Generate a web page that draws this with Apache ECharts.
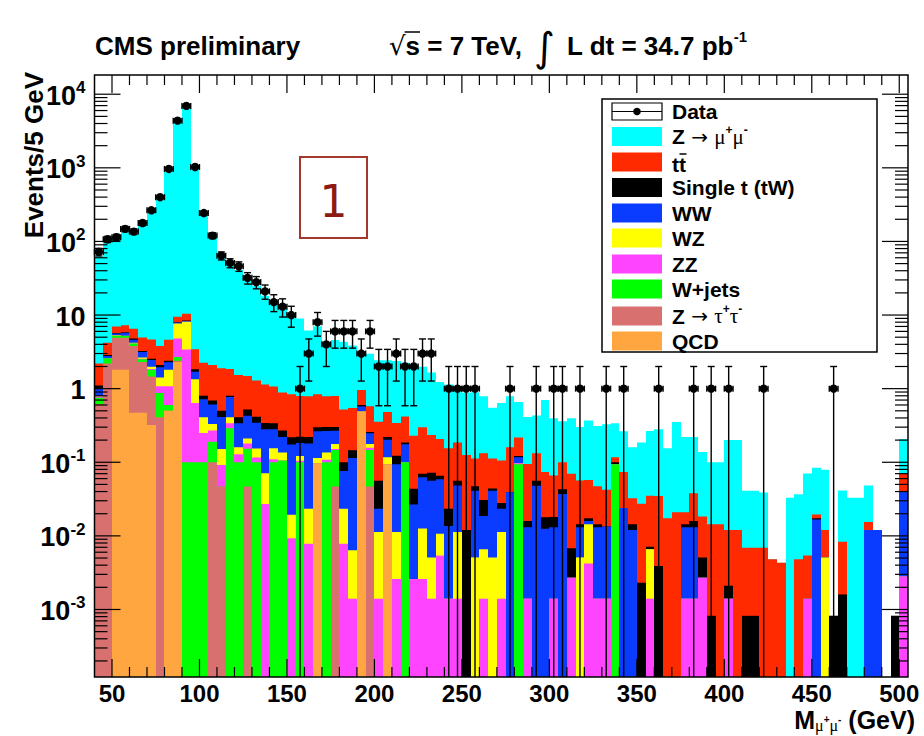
<!DOCTYPE html>
<html>
<head>
<meta charset="utf-8">
<title>CMS dimuon invariant mass</title>
<script src="https://cdn.jsdelivr.net/npm/echarts@6/dist/echarts.min.js"></script>
<style>
html, body { margin: 0; padding: 0; background: #ffffff; }
#chart { width: 924px; height: 736px; }
</style>
</head>
<body>
<div id="chart"></div>
<script>
// ---- Histogram binning (GeV) ----
const massFirstEdge = 40;
const binWidth = 5;
const nBins = 93;

// ---- Observed events per 5 GeV bin ----
const dataEvents = [
  72, 107, 114, 148, 136, 178, 265, 399, 966, 4375,
  6935, 1026, 243, 120, 64, 51, 46, 32, 28, 21,
  15, 13, 10, 1, 3, 8, 4, 6, 6, 6,
  3, 6, 2, 2, 3, 2, 2, 3, 3, 0,
  1, 1, 1, 1, 0, 0, 0, 1, 0, 0,
  1, 0, 1, 1, 0, 1, 0, 0, 1, 0,
  1, 0, 0, 0, 1, 0, 0, 0, 1, 0,
  1, 0, 1, 0, 0, 0, 1, 0, 0, 0,
  0, 0, 0, 0, 1, 0, 0, 0, 0, 0,
  0, 0, 0
];

// ---- Simulated yields per bin, one array per process ----
const qcd = [
  0, 0, 1.8, 1.8, 0.47, 0.47, 0.32, 0, 0.5, 2.3,
  0, 0, 0, 0, 0, 0, 0, 0, 0, 0,
  0, 0, 0, 0, 0, 0.097, 0, 0, 0, 0,
  0.49, 0, 0, 0.094, 0, 0, 0, 0, 0, 0,
  0, 0, 0, 0, 0, 0, 0, 0, 0, 0,
  0, 0, 0, 0, 0, 0, 0, 0, 0, 0,
  0, 0, 0, 0, 0, 0, 0, 0, 0, 0,
  0, 0, 0, 0, 0, 0, 0, 0, 0, 0,
  0, 0, 0, 0, 0, 0, 0, 0, 0, 0,
  0, 0, 0
];
const zTauTau = [
  0.62, 2.2, 3.1, 3.1, 3.33, 1.83, 1.14, 0.41, 0, 0.1,
  0, 0, 0, 0.1, 0.047, 0, 0, 0.047, 0, 0,
  0, 0, 0, 0, 0, 0, 0, 0.047, 0, 0,
  0, 0.047, 0, 0, 0, 0, 0, 0, 0, 0,
  0, 0, 0, 0, 0, 0, 0, 0, 0, 0,
  0, 0, 0, 0, 0, 0, 0, 0, 0, 0,
  0, 0, 0, 0, 0, 0, 0, 0, 0, 0,
  0, 0, 0, 0, 0, 0, 0, 0, 0, 0,
  0, 0, 0, 0, 0, 0, 0, 0, 0, 0,
  0, 0, 0
];
const wJets = [
  0.13, 0.38, 0.35, 0.3, 0.3, 0.2, 0.34, 0.46, 0.1, 0.3,
  0.1, 0.1, 0.1, 0.09, 0, 0.29, 0.1, 0.106, 0.1, 0,
  0.1, 0.106, 0, 0.1, 0, 0, 0.1, 0.1, 0, 0,
  0, 0.1, 0, 0, 0, 0.1, 0, 0, 0, 0,
  0, 0, 0, 0, 0, 0, 0, 0, 0.094, 0,
  0, 0, 0, 0, 0, 0, 0, 0, 0, 0.094,
  0, 0, 0, 0, 0, 0, 0, 0, 0, 0,
  0, 0, 0, 0, 0, 0, 0, 0, 0, 0,
  0, 0, 0, 0, 0, 0, 0, 0, 0, 0,
  0, 0, 0
];
const zz = [
  0.03, 0, 0, 0, 0, 0.05, 0.05, 0.21, 0.48, 2.1,
  3.3, 0.54, 0.15, 0.08, 0.045, 0.05, 0.028, 0.027, 0.016, 0.027,
  0.01, 0, 0.0093, 0.005, 0.0078, 0, 0.008, 0.005, 0.0078, 0.0014,
  0, 0.01, 0.0014, 0, 0.0026, 0, 0.0026, 0.0026, 0.0014, 0.0054,
  0.0014, 0.0014, 0, 0, 0.0014, 0, 0.0014, 0, 0.003, 0.0014,
  0, 0, 0.0014, 0, 0.0027, 0, 0.0042, 0.0014, 0.0014, 0,
  0, 0, 0, 0.0014, 0, 0, 0, 0.0014, 0.0014, 0.0027,
  0, 0, 0.0014, 0, 0, 0, 0, 0, 0, 0,
  0, 0.0014, 0, 0, 0, 0, 0, 0, 0, 0,
  0, 0, 0.0028
];
const wz = [
  0.02, 0, 0.05, 0.05, 0.1, 0.1, 0.13, 0.34, 0.72, 2.9,
  4.7, 0.7, 0.16, 0.06, 0.06, 0.07, 0.032, 0.03, 0.038, 0.044,
  0.045, 0.03, 0.01, 0.017, 0.0155, 0.017, 0.028, 0.025, 0.0155, 0.005,
  0, 0.02, 0.0099, 0.023, 0.0087, 0, 0, 0.01, 0.0037, 0.0053,
  0, 0.0099, 0, 0.0051, 0.0052, 0.0051, 0.0099, 0, 0, 0,
  0, 0, 0, 0, 0, 0.0051, 0.0102, 0, 0, 0,
  0, 0, 0, 0.0052, 0, 0, 0, 0, 0, 0,
  0, 0, 0, 0, 0, 0, 0, 0, 0, 0,
  0, 0, 0, 0.0051, 0, 0, 0, 0, 0, 0,
  0, 0, 0
];
const ww = [
  0.19, 0.19, 0.3, 0.5, 0.4, 0.5, 0.47, 0.53, 0.48, 0.2,
  0.2, 0.36, 0.31, 0.28, 0.26, 0.36, 0.18, 0.22, 0.19, 0.21,
  0.125, 0.084, 0.155, 0.06, 0.157, 0.15, 0.13, 0.09, 0.053, 0.108,
  0.08, 0.07, 0.012, 0.086, 0.083, 0.075, 0.024, 0.05, 0.051, 0.048,
  0.0122, 0.037, 0, 0.036, 0.012, 0.036, 0.012, 0.039, 0.02, 0.0117,
  0.048, 0.0125, 0.0117, 0.037, 0, 0.008, 0.0015, 0.0117, 0.012, 0,
  0.024, 0.012, 0, 0, 0, 0, 0, 0.0117, 0.0117, 0,
  0, 0, 0, 0, 0, 0, 0, 0, 0, 0,
  0, 0, 0.0167, 0, 0, 0, 0, 0, 0.012, 0.012,
  0, 0, 0.038
];
const singleTop = [
  0.11, 0.09, 0.1, 0.1, 0.2, 0.1, 0.1, 0.15, 0.12, 0.1,
  0.1, 0.13, 0.08, 0.08, 0.09, 0.03, 0.07, 0.09, 0.07, 0.06,
  0.06, 0.05, 0.045, 0.04, 0.04, 0.035, 0.035, 0.035, 0.024, 0.031,
  0.03, 0.01, 0.033, 0.017, 0.028, 0.01, 0.017, 0.007, 0.016, 0.007,
  0.0097, 0.008, 0.012, 0.006, 0.012, 0.003, 0.0047, 0, 0.005, 0.0028,
  0.008, 0.0054, 0.005, 0.006, 0.0041, 0.0013, 0.0014, 0.0013, 0, 0.006,
  0, 0.0024, 0.0023, 0.0005, 0.0039, 0, 0, 0.0013, 0.0028, 0.0024,
  0.00082, 0, 0.0007, 0, 0.00082, 0.00082, 0, 0, 0, 0,
  0, 0, 0.0006, 0, 0.00082, 0.0016, 0, 0, 0, 0,
  0, 0.00082, 0
];
const ttbar = [
  1.1, 1.34, 1.3, 1.4, 1.7, 1.7, 2.1, 1.7, 2.2, 1.5,
  2.0, 1.6, 1.45, 1.4, 1.39, 1.05, 1.12, 0.97, 0.88, 0.8,
  0.73, 0.62, 0.62, 0.57, 0.57, 0.54, 0.49, 0.49, 0.42, 0.4,
  0.36, 0.32, 0.3, 0.26, 0.22, 0.235, 0.186, 0.23, 0.163, 0.142,
  0.132, 0.129, 0.114, 0.065, 0.102, 0.068, 0.078, 0.121, 0.095, 0.079,
  0.077, 0.056, 0.048, 0.057, 0.063, 0.042, 0.04, 0.033, 0.029, 0.017,
  0.05, 0.018, 0.025, 0.028, 0.031, 0.0173, 0.021, 0.0066, 0.022, 0.0132,
  0.0136, 0.0144, 0.0099, 0.012, 0.0061, 0.0061, 0.0069, 0.0048, 0.0043, 0,
  0.0048, 0.004, 0.0022, 0.0069, 0, 0.0067, 0, 0, 0.0034, 0,
  0, 0, 0.029
];
const zMuMu = [
  60, 96, 106, 133, 127, 165, 250, 385, 950, 4200,
  6600, 1000, 240, 118, 62, 49, 39.5, 32.5, 23.7, 17.2,
  13.5, 11.2, 9.26, 8.2, 5.4, 6.2, 3.5, 3.8, 3.8, 3.3,
  2.24, 2.4, 2.08, 1.96, 2.03, 1.82, 1.77, 1.69, 1.42, 1.02,
  0.985, 0.765, 0.764, 0.78, 0.657, 0.438, 0.534, 0.63, 0.44, 0.316,
  0.3, 0.626, 0.329, 0.26, 0.325, 0.244, 0.313, 0.263, 0.287, 0.223,
  0.19, 0.128, 0.158, 0.23, 0.245, 0.138, 0.33, 0.2, 0.182, 0.12,
  0.086, 0.086, 0.188, 0.188, 0.034, 0.034, 0.032, 0, 0, 0.033,
  0.032, 0.065, 0.065, 0.067, 0, 0.033, 0.033, 0.033, 0.033, 0,
  0, 0, 0.138
];

// ---- Axis ticks ----
const xTickLabels = [50, 100, 150, 200, 250, 300, 350, 400, 450, 500];
const yDecades = [-3, -2, -1, 0, 1, 2, 3, 4];

// ---- Plot ranges ----
const X_MIN = 40, X_MAX = 505;
const Y_MIN = 1.21e-4, Y_MAX = 1.824e4;

const SANS = '"Liberation Sans", Arial, Helvetica, sans-serif';
const SERIF = '"Liberation Serif", "DejaVu Serif", serif';
const SYMB = '"DejaVu Sans", sans-serif';

// Stack order, bottom to top
const processes = [
  { name: 'QCD', values: qcd, color: '#ffa640' },
  { name: 'Z→ττ', values: zTauTau, color: '#d87070' },
  { name: 'W+jets', values: wJets, color: '#00ff00' },
  { name: 'ZZ', values: zz, color: '#ff44ff' },
  { name: 'WZ', values: wz, color: '#ffff00' },
  { name: 'WW', values: ww, color: '#0a3cff' },
  { name: 'Single t (tW)', values: singleTop, color: '#000000' },
  { name: 'ttbar', values: ttbar, color: '#ff2a00' },
  { name: 'Z→μμ', values: zMuMu, color: '#00ffff' }
];

// Cumulative stack levels: level k = sum of processes 0..k
const stackLevels = [];
let running = new Array(nBins).fill(0);
processes.forEach(function (p) {
  running = running.map(function (s, i) { return s + p.values[i]; });
  stackLevels.push(running.slice());
});

function binLow(i) { return massFirstEdge + binWidth * i; }

// Each stack level is a filled histogram from the axis floor to its cumulative height
function renderBar(params, api) {
  const lo = api.value(0), hi = api.value(1), top = api.value(2);
  if (!(top > 0)) return null;
  const cs = params.coordSys;
  const pTop = api.coord([lo, top]);
  const pHi = api.coord([hi, Y_MIN]);
  const floorY = cs.y + cs.height;
  const y1 = Math.max(pTop[1], cs.y);
  if (y1 >= floorY - 0.2) return null;
  const x1 = Math.round(pTop[0]), x2 = Math.round(pHi[0]);
  return {
    type: 'rect',
    shape: { x: x1, y: y1, width: x2 - x1, height: floorY - y1 },
    style: { fill: api.visual('color') }
  };
}

// Data points with Poisson (sqrt N) vertical errors and half-bin horizontal errors
function renderData(params, api) {
  const x = api.value(0), n = api.value(1);
  if (!(n > 0)) return null;
  const cs = params.coordSys;
  const floorY = cs.y + cs.height;
  const err = Math.sqrt(n);
  const c = api.coord([x, n]);
  const yUp = api.coord([x, n + err])[1];
  const lowVal = n - err;
  const yLow = lowVal > Y_MIN ? api.coord([x, lowVal])[1] : floorY;
  const xl = api.coord([x - binWidth / 2, n])[0];
  const xr = api.coord([x + binWidth / 2, n])[0];
  const st = { stroke: '#000', lineWidth: 1.4 };
  const cap = 3.5;
  const kids = [
    { type: 'line', shape: { x1: c[0], y1: yUp, x2: c[0], y2: yLow }, style: st },
    { type: 'line', shape: { x1: c[0] - cap, y1: yUp, x2: c[0] + cap, y2: yUp }, style: st },
    { type: 'line', shape: { x1: xl, y1: c[1], x2: xr, y2: c[1] }, style: st },
    { type: 'line', shape: { x1: xl, y1: c[1] - 3, x2: xl, y2: c[1] + 3 }, style: st },
    { type: 'line', shape: { x1: xr, y1: c[1] - 3, x2: xr, y2: c[1] + 3 }, style: st },
    { type: 'circle', shape: { cx: c[0], cy: c[1], r: 4.2 }, style: { fill: '#000' } }
  ];
  if (lowVal > Y_MIN) {
    kids.push({ type: 'line', shape: { x1: c[0] - cap, y1: yLow, x2: c[0] + cap, y2: yLow }, style: st });
  }
  return { type: 'group', children: kids };
}

// Ticks on all four sides of the frame, ROOT style
function renderXTick(params, api) {
  const cs = params.coordSys;
  const px = api.coord([api.value(0), 1])[0];
  const len = api.value(2) ? 18 : 10;
  const st = { stroke: '#000', lineWidth: 1.2 };
  const bottom = cs.y + cs.height;
  return { type: 'group', children: [
    { type: 'line', shape: { x1: px, y1: bottom, x2: px, y2: bottom - len }, style: st },
    { type: 'line', shape: { x1: px, y1: cs.y, x2: px, y2: cs.y + len }, style: st }
  ] };
}
function renderYTick(params, api) {
  const cs = params.coordSys;
  const py = api.coord([X_MIN, api.value(1)])[1];
  const len = api.value(2) ? 26 : 13;
  const st = { stroke: '#000', lineWidth: 1.2 };
  const right = cs.x + cs.width;
  return { type: 'group', children: [
    { type: 'line', shape: { x1: cs.x, y1: py, x2: cs.x + len, y2: py }, style: st },
    { type: 'line', shape: { x1: right, y1: py, x2: right - len, y2: py }, style: st }
  ] };
}
function renderFrame(params) {
  const cs = params.coordSys;
  return { type: 'rect', shape: { x: cs.x, y: cs.y, width: cs.width, height: cs.height },
    style: { fill: null, stroke: '#000', lineWidth: 1.5 } };
}

// Tick positions
const xTicks = [];
for (let v = X_MIN + 10; v <= 500; v += 10) {
  xTicks.push([v, 1, xTickLabels.indexOf(v) >= 0 ? 1 : 0]);
}
const yTicks = [];
for (let e = -4; e <= 4; e++) {
  for (let m = 1; m <= 9; m++) {
    const v = m * Math.pow(10, e);
    if (v > Y_MIN && v < Y_MAX) yTicks.push([X_MIN, v, m === 1 ? 1 : 0]);
  }
}

// ---- Series ----
const series = [];
for (let k = processes.length - 1; k >= 0; k--) {
  const level = stackLevels[k];
  const rows = [];
  for (let i = 0; i < nBins; i++) {
    if (level[i] > 0) rows.push([binLow(i), binLow(i) + binWidth, level[i]]);
  }
  series.push({
    type: 'custom', name: processes[k].name, renderItem: renderBar,
    itemStyle: { color: processes[k].color },
    encode: { x: [0, 1], y: 2 }, data: rows, z: 2, silent: true
  });
}
series.push({ type: 'custom', renderItem: renderXTick, data: xTicks, encode: { x: 0, y: 1 }, z: 3, silent: true });
series.push({ type: 'custom', renderItem: renderYTick, data: yTicks, encode: { x: 0, y: 1 }, z: 3, silent: true });
series.push({ type: 'custom', renderItem: renderFrame, data: [[X_MIN, 1]], encode: { x: 0, y: 1 }, z: 4, silent: true });
const dataPoints = [];
dataEvents.forEach(function (n, i) {
  if (n > 0) dataPoints.push([binLow(i) + binWidth / 2, n]);
});
series.push({ type: 'custom', name: 'Data', renderItem: renderData, data: dataPoints, encode: { x: 0, y: 1 }, z: 5, silent: true });

// ---- Text helpers for the annotations ----
const measureCtx = document.createElement('canvas').getContext('2d');
function textWidth(str, font) { measureCtx.font = font; return measureCtx.measureText(str).width; }
function textRun(x, y, pieces) {
  const out = [];
  let cx = x;
  pieces.forEach(function (p) {
    out.push({
      type: 'text', x: cx, y: y + (p.dy || 0), z: 100, silent: true,
      style: { text: p.t, font: p.f, fill: p.c || '#000', align: 'left', verticalAlign: 'middle',
               textAlign: 'left', textVerticalAlign: 'middle' }
    });
    cx += textWidth(p.t, p.f) + (p.gap || 0);
  });
  return { elements: out, end: cx };
}

const graphics = [];
function addAll(list) { list.forEach(function (e) { graphics.push(e); }); }

// Header line
const HEAD = 'bold 26px ' + SANS;
addAll(textRun(95, 46, [{ t: 'CMS preliminary', f: HEAD }]).elements);
const rootRun = textRun(389, 46, [
  { t: '√', f: '26px ' + SYMB },
  { t: 's', f: HEAD },
  { t: ' = 7 TeV,', f: HEAD }
]);
addAll(rootRun.elements);
(function () {
  const xs = 389 + textWidth('√', '26px ' + SYMB) - 1;
  const xe = xs + textWidth('s', HEAD) + 1;
  graphics.push({ type: 'line', z: 100, silent: true, shape: { x1: xs, y1: 32, x2: xe, y2: 32 }, style: { stroke: '#000', lineWidth: 1.5 } });
})();
addAll(textRun(534, 47, [{ t: '∫', f: '40px ' + SYMB }]).elements);
addAll(textRun(567, 46, [
  { t: 'L dt = 34.7 pb', f: HEAD },
  { t: '-1', f: 'bold 15px ' + SANS, dy: -10 }
]).elements);

// Axis titles
graphics.push({
  type: 'text', x: 34, y: 72, rotation: Math.PI / 2, z: 100, silent: true,
  style: { text: 'Events/5 GeV', font: 'bold 26px ' + SANS, fill: '#000', align: 'right', verticalAlign: 'middle',
           textAlign: 'right', textVerticalAlign: 'middle' }
});
(function () {
  const T = 'bold 25px ' + SANS;
  const G = '16px ' + SERIF;
  const S = 'bold 10px ' + SANS;
  const pieces = [
    { t: 'M', f: T },
    { t: 'μ', f: G, dy: 5 },
    { t: '+', f: S, dy: -1 },
    { t: 'μ', f: G, dy: 5 },
    { t: '-', f: S, dy: -1 },
    { t: ' (GeV)', f: T }
  ];
  let w = 0;
  pieces.forEach(function (p) { w += textWidth(p.t, p.f); });
  addAll(textRun(915 - w, 720, pieces).elements);
})();

// Annotation box
graphics.push({ type: 'rect', z: 100, silent: true, shape: { x: 300, y: 157, width: 67, height: 81 },
  style: { fill: '#ffffff', stroke: '#a3382c', lineWidth: 2 } });
graphics.push({ type: 'text', x: 333.5, y: 201, z: 101, silent: true,
  style: { text: '1', font: '44px "DejaVu Sans", sans-serif', fill: '#8c1a12', align: 'center', verticalAlign: 'middle',
           textAlign: 'center', textVerticalAlign: 'middle' } });

// Legend
(function () {
  const L = 'bold 21px ' + SANS;
  const AR = '20px ' + SYMB;
  const GR = '21px ' + SERIF;
  const SP = 'bold 12px ' + SANS;
  graphics.push({ type: 'rect', z: 100, silent: true, shape: { x: 602, y: 99, width: 275, height: 253 },
    style: { fill: '#ffffff', stroke: '#000', lineWidth: 1.5 } });
  const rowsY = [111.5, 136.5, 162, 187.5, 213, 238, 264, 289, 316, 341];
  const byName = {};
  processes.forEach(function (p) { byName[p.name] = p; });
  const entries = [
    { key: 'Data', label: [{ t: 'Data', f: L }] },
    { key: 'Z→μμ', label: [{ t: 'Z', f: L }, { t: ' → ', f: AR }, { t: 'μ', f: GR }, { t: '+', f: SP, dy: -7 }, { t: 'μ', f: GR }, { t: '-', f: SP, dy: -7 }] },
    { key: 'ttbar', label: null },
    { key: 'Single t (tW)', label: [{ t: 'Single t (tW)', f: L }] },
    { key: 'WW', label: [{ t: 'WW', f: L }] },
    { key: 'WZ', label: [{ t: 'WZ', f: L }] },
    { key: 'ZZ', label: [{ t: 'ZZ', f: L }] },
    { key: 'W+jets', label: [{ t: 'W+jets', f: L }] },
    { key: 'Z→ττ', label: [{ t: 'Z', f: L }, { t: ' → ', f: AR }, { t: 'τ', f: GR }, { t: '+', f: SP, dy: -7 }, { t: 'τ', f: GR }, { t: '-', f: SP, dy: -7 }] },
    { key: 'QCD', label: [{ t: 'QCD', f: L }] }
  ];
  entries.forEach(function (en, r) {
    const cy = rowsY[r];
    if (en.key === 'Data') {
      graphics.push({ type: 'rect', z: 101, silent: true, shape: { x: 612, y: cy - 8.5, width: 50, height: 17 },
        style: { fill: '#fff', stroke: '#000', lineWidth: 1.2 } });
      graphics.push({ type: 'line', z: 102, silent: true, shape: { x1: 612, y1: cy, x2: 662, y2: cy }, style: { stroke: '#000', lineWidth: 1.2 } });
      graphics.push({ type: 'circle', z: 102, silent: true, shape: { cx: 637, cy: cy, r: 3.8 }, style: { fill: '#000' } });
    } else {
      graphics.push({ type: 'rect', z: 101, silent: true, shape: { x: 612, y: cy - 9.5, width: 50, height: 19 },
        style: { fill: byName[en.key].color } });
    }
    if (en.key === 'ttbar') {
      const run = textRun(672, cy + 2, [{ t: 't', f: L }, { t: 't', f: L }]);
      addAll(run.elements);
      const w1 = textWidth('t', L);
      graphics.push({ type: 'line', z: 102, silent: true,
        shape: { x1: 672 + w1 + 0.5, y1: cy - 8, x2: 672 + 2 * w1 + 0.5, y2: cy - 8 }, style: { stroke: '#000', lineWidth: 1.5 } });
    } else {
      addAll(textRun(672, cy, en.label).elements);
    }
  });
})();

const option = {
  animation: false,
  backgroundColor: '#ffffff',
  grid: { left: 94.5, right: 16, top: 75, bottom: 59, containLabel: false },
  xAxis: {
    type: 'value', min: X_MIN, max: X_MAX, interval: 10,
    axisLine: { show: false }, axisTick: { show: false }, splitLine: { show: false },
    axisLabel: {
      margin: 4, color: '#000', fontFamily: SANS, fontWeight: 'bold', fontSize: 24, lineHeight: 24,
      formatter: function (v) { return xTickLabels.indexOf(v) >= 0 ? String(v) : ''; }
    }
  },
  yAxis: {
    type: 'log', logBase: 10, min: Y_MIN, max: Y_MAX,
    axisLine: { show: false }, axisTick: { show: false }, splitLine: { show: false },
    axisLabel: {
      margin: 9, showMinLabel: false, showMaxLabel: false,
      formatter: function (v) {
        const lg = Math.log10(v);
        const e = Math.round(lg);
        if (Math.abs(lg - e) > 1e-6 || yDecades.indexOf(e) < 0) return '';
        if (e === 0) return '{b|1}';
        if (e === 1) return '{b|10}';
        return '{b|10}{s|' + e + '}';
      },
      rich: {
        b: { fontFamily: SANS, fontWeight: 'bold', fontSize: 27, color: '#000', lineHeight: 30, verticalAlign: 'bottom' },
        s: { fontFamily: SANS, fontWeight: 'bold', fontSize: 17, color: '#000', lineHeight: 17, verticalAlign: 'top' }
      }
    }
  },
  graphic: { elements: graphics },
  series: series
};

const chart = echarts.init(document.getElementById('chart'), null, { renderer: 'svg' });
chart.setOption(option);
</script>
</body>
</html>
